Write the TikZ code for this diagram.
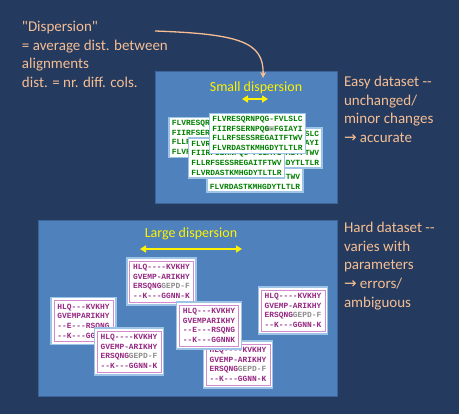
\documentclass[tikz,border=0pt]{standalone}
\usepackage{fontspec}
\setmonofont{Liberation Mono}
\newfontfamily\notefont{Carlito}
\newfontfamily\arrowfont{DejaVu Sans}
\usetikzlibrary{arrows.meta}

\definecolor{slidebg}{RGB}{36,58,94}
\definecolor{panelblue}{RGB}{79,129,189}
\definecolor{paneledge}{RGB}{60,100,155}
\definecolor{peach}{RGB}{246,190,148}
\definecolor{cardedge}{RGB}{157,195,230}
\definecolor{seqgreen}{RGB}{0,128,0}
\definecolor{seqpurple}{RGB}{150,40,130}
\definecolor{pinkedge}{RGB}{210,140,205}
\definecolor{gapgray}{RGB}{140,140,140}

\newcommand{\toarrow}{{\arrowfont\char"2192}}
\newcommand{\hlgap}[1]{{\setlength{\fboxsep}{0pt}\colorbox{gray!45}{#1}}}
% one small-dispersion alignment, #1 = the gap column of line 2
\newcommand{\easyaln}[1]{FLVRESQRNPQG-FVLSLC\\FIIRFSERNPQ#1FGIAYI\\FLLRFSESSREGAITFTWV\\FLVRDASTKMHGDYTLTLR}
\newcommand{\hardalnA}{HLQ----KVKHY\\GVEMP-ARIKHY\\ERSQNG\textcolor{gapgray}{GEPD-F}\\--K---GGNN-K}
\newcommand{\hardalnB}{HLQ---KVKHY\\GVEMPARIKHY\\--E---RSQNG\\--K---GGNNK}

\tikzstyle{every node}=[inner sep=0pt, outer sep=0pt]
\tikzstyle{panel}=[draw=paneledge, line width=1pt, fill=panelblue]
\tikzstyle{note}=[anchor=north west, align=left, text=peach, font={\notefont\fontsize{15}{18.7}\selectfont}]
\tikzstyle{dlabel}=[text=yellow, font={\notefont\fontsize{14}{16}\selectfont}]
\tikzstyle{spanarrow}=[yellow, line width=2pt, {Triangle[length=6pt,width=7pt]}-{Triangle[length=6pt,width=7pt]}]
\tikzstyle{seqfont}=[align=left, font={\ttfamily\bfseries\fontsize{7.9}{9.6}\selectfont}]
\tikzstyle{easycard}=[seqfont, draw=cardedge, line width=1.5pt, fill=white, text=seqgreen, inner xsep=3pt, inner ysep=3pt]
\tikzstyle{hardcard}=[seqfont, draw=pinkedge, line width=0.8pt, fill=white, text=seqpurple, inner xsep=3.5pt, inner ysep=3.5pt,
    preaction={draw=cardedge, line width=7pt}, preaction={draw=white, line width=4pt}]

\begin{document}
\begin{tikzpicture}[x=1pt, y=-1pt]
    \fill [slidebg] (0,0) rectangle (459,414);
    \useasboundingbox (0,0) rectangle (459,414);

    % panels
    \draw [panel] (155,72) rectangle (337,204);
    \draw [panel] (38,221) rectangle (337,397);

    % notes
    \node [note] (defn) at (22,21) {"Dispersion"\\= average dist. between\\alignments\\dist. = nr. diff. cols.};
    \node [note] (easy) at (344,76) {Easy dataset -\kern0pt-\\unchanged/\\minor changes\\\toarrow{} accurate};
    \node [note] (hard) at (344,222) {Hard dataset -\kern0pt-\\varies with\\parameters\\\toarrow{} errors/\\ambiguous};

    % small dispersion
    \node [dlabel] (smalllbl) at (256,88) {Small dispersion};
    \coordinate (smallL) at (242,99);
    \coordinate (smallR) at (268,99);
    \draw [spanarrow] (smallL) -- (smallR);
    \coordinate (curvestart) at (155,31);
    \draw [peach, line width=1.3pt, -{Stealth[length=6pt,width=6pt]}]
        (curvestart) .. controls (240,34) and (264,42) .. ([xshift=7pt,yshift=4pt]smalllbl.north);

    \node [easycard] (easyA) at (217,137.5) {\easyaln{G-}};
    \node [easycard] (easyE) at (255,172) {\easyaln{G-}};
    \node [easycard] (easyC) at (274,148) {\easyaln{G-}};
    \node [easycard] (easyD) at (236.5,158) {\easyaln{G-}};
    \node [easycard] (easyB) at (257.5,133.5) {\easyaln{\hlgap{G-}}};

    % large dispersion
    \node [dlabel] (largelbl) at (191,234) {Large dispersion};
    \coordinate (largeL) at (140,249);
    \coordinate (largeR) at (242,249);
    \draw [spanarrow] (largeL) -- (largeR);

    \node [hardcard] (hard1) at (161.5,281.5) {\hardalnA};
    \node [hardcard] (hard2) at (83.5,321) {\hardalnB};
    \node [hardcard] (hard3) at (129,351.5) {\hardalnA};
    \node [hardcard] (hard5) at (238,364.5) {\hardalnA};
    \node [hardcard] (hard4) at (209,325.5) {\hardalnB};
    \node [hardcard] (hard6) at (293,310.5) {\hardalnA};
\end{tikzpicture}
\end{document}
